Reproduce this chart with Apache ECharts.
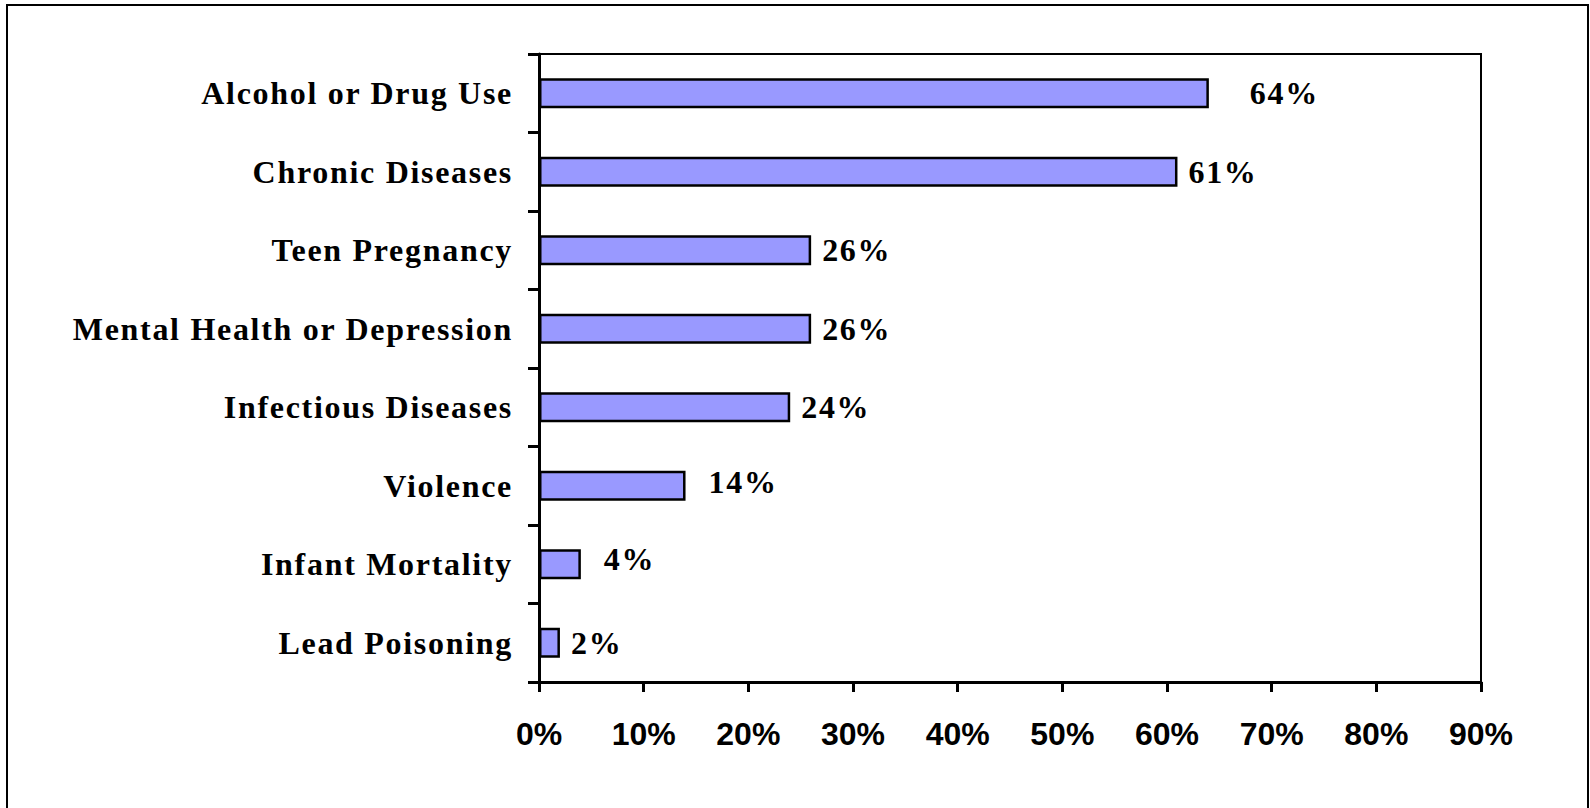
<!DOCTYPE html>
<html>
<head>
<meta charset="utf-8">
<script src="https://cdn.jsdelivr.net/npm/echarts@6/dist/echarts.min.js"></script>
<style>
html,body{margin:0;padding:0;background:#fff;}
#c{width:1590px;height:808px;}
</style>
</head>
<body>
<div id="c"></div>
<script>
const categories = ["Alcohol or Drug Use","Chronic Diseases","Teen Pregnancy","Mental Health or Depression","Infectious Diseases","Violence","Infant Mortality","Lead Poisoning"];
const values = [64, 61, 26, 26, 24, 14, 4, 2];
const xTicks = [0,10,20,30,40,50,60,70,80,90];
// label nudges (x, y) in px, mimicking the original's hand-placed labels
const labelNudge = [[30,0],[0,0],[0,0],[0,0],[0,0],[12,-4],[12,-5],[0,0]];

const chart = echarts.init(document.getElementById('c'), null, {renderer:'svg'});
const serif = "'Liberation Serif','Times New Roman',serif";
const sans = "'Liberation Sans',Arial,sans-serif";
chart.setOption({
  animation:false,
  backgroundColor:'#fff',
  graphic:[{type:'rect',shape:{x:7,y:5,width:1581,height:810},style:{fill:'none',stroke:'#000',lineWidth:2},z:-1}],
  grid:{left:539,top:54,right:109,bottom:126,show:true,borderColor:'#000',borderWidth:2,backgroundColor:'transparent'},
  xAxis:{type:'value',min:xTicks[0],max:xTicks[xTicks.length-1],interval:10,
    axisLine:{show:true,lineStyle:{color:'#000',width:3}},
    axisTick:{show:true,length:10,lineStyle:{color:'#000',width:3}},
    splitLine:{show:false},
    axisLabel:{formatter:'{value}%',color:'#000',fontFamily:sans,fontWeight:'bold',fontSize:32,margin:36}},
  yAxis:{type:'category',data:categories,inverse:true,
    axisLine:{show:true,lineStyle:{color:'#000',width:3}},
    axisTick:{show:true,length:11,lineStyle:{color:'#000',width:3}},
    axisLabel:{color:'#000',fontFamily:serif,fontWeight:'bold',fontSize:32,margin:26,padding:[6,0,0,0]}},
  series:[{type:'bar',barWidth:30,
    data:values.map((v,i)=>({value:v,label:{offset:labelNudge[i]}})),
    itemStyle:{color:'#9999FF',borderColor:'#000',borderWidth:2.5},
    label:{show:true,position:'right',distance:11,formatter:'{c}%',color:'#000',fontFamily:serif,fontWeight:'bold',fontSize:32,padding:[6,0,0,0]}
  }]
});
function spaceText(){
  document.querySelectorAll('#c text').forEach(t=>{
    const s=(t.getAttribute('style')||'')+(t.getAttribute('font-family')||'');
    if(s.indexOf('Serif')>=0) t.setAttribute('letter-spacing','1.7');
  });
}
spaceText();
chart.on('finished', spaceText);
</script>
</body>
</html>
